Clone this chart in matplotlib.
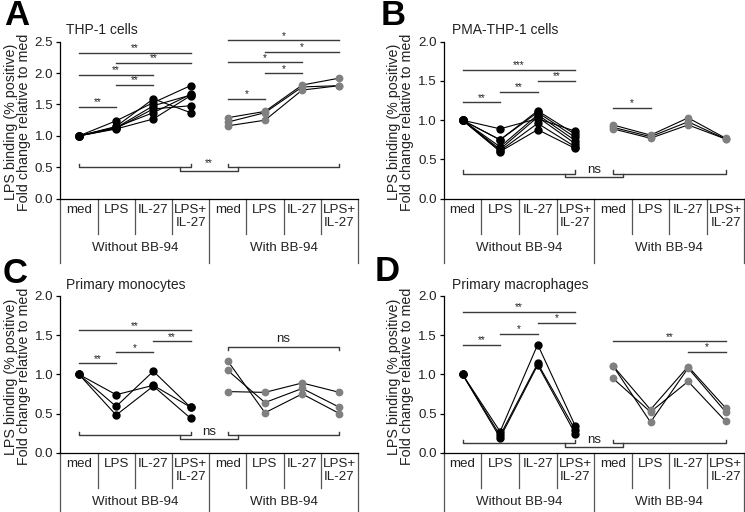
import matplotlib
matplotlib.use("Agg")
import matplotlib.pyplot as plt
from matplotlib.transforms import blended_transform_factory, IdentityTransform

plt.rcParams['font.family'] = ['Liberation Sans', 'DejaVu Sans']

# ---------------- data ----------------
categories = ['med', 'LPS', 'IL-27', 'LPS+\nIL-27']
groups = ['Without BB-94', 'With BB-94']
titles = ['THP-1 cells', 'PMA-THP-1 cells', 'Primary monocytes', 'Primary macrophages']
letters = ['A', 'B', 'C', 'D']

A_without = [[1.0, 1.24, 1.53, 1.80], [1.0, 1.15, 1.59, 1.37], [1.0, 1.13, 1.48, 1.65],
             [1.0, 1.12, 1.43, 1.48], [1.0, 1.11, 1.27, 1.64], [1.0, 1.14, 1.37, 1.66]]
A_with = [[1.29, 1.39, 1.81, 1.92], [1.22, 1.37, 1.78, 1.80], [1.16, 1.25, 1.73, 1.80]]

B_without = [[1.0, 0.89, 1.02, 0.86], [1.0, 0.75, 1.12, 0.82], [1.0, 0.75, 1.10, 0.78],
             [1.0, 0.66, 1.07, 0.74], [1.0, 0.63, 1.04, 0.70], [1.0, 0.61, 0.96, 0.66],
             [1.0, 0.60, 0.88, 0.64]]
B_with = [[0.94, 0.81, 1.03, 0.77], [0.91, 0.79, 0.98, 0.76], [0.89, 0.77, 0.94, 0.76]]

C_without = [[1.0, 0.59, 1.04, 0.58], [1.0, 0.74, 0.86, 0.58], [1.0, 0.48, 0.85, 0.44]]
C_with = [[1.17, 0.51, 0.75, 0.50], [1.05, 0.64, 0.82, 0.58], [0.78, 0.77, 0.89, 0.77]]

D_without = [[1.0, 0.27, 1.38, 0.34], [1.0, 0.22, 1.14, 0.29], [1.0, 0.19, 1.12, 0.24]]
D_with = [[1.11, 0.55, 1.10, 0.57], [1.11, 0.39, 1.08, 0.52], [0.95, 0.52, 0.91, 0.40]]

# significance: (from index, to index, height, label)
A_sig = [(0, 1, 1.46, '**'), (1, 2, 1.81, '**'), (0, 2, 1.97, '**'), (1, 3, 2.16, '**'),
         (0, 3, 2.32, '**'), (4, 5, 1.59, '*'), (5, 6, 2.00, '*'), (4, 6, 2.17, '*'),
         (5, 7, 2.34, '*'), (4, 7, 2.52, '*')]
B_sig = [(0, 1, 1.23, '**'), (1, 2, 1.36, '**'), (2, 3, 1.50, '**'), (0, 3, 1.64, '***'),
         (4, 5, 1.16, '*')]
C_sig = [(0, 1, 1.14, '**'), (1, 2, 1.28, '*'), (2, 3, 1.42, '**'), (0, 3, 1.56, '**')]
D_sig = [(0, 1, 1.38, '**'), (1, 2, 1.52, '*'), (2, 3, 1.66, '*'), (0, 3, 1.80, '**'),
         (6, 7, 1.29, '*'), (4, 7, 1.42, '**')]
ns_brackets = [[], [], [(4, 7, 1.35, 'ns')], []]
group_compare = [(0.50, '**'), (0.32, 'ns'), (0.22, 'ns'), (0.12, 'ns')]
ymaxes = [2.5, 2.0, 2.0, 2.0]

W, H = 745, 512
fig = plt.figure(figsize=(W / 100, H / 100), dpi=100)

# panel geometry in pixels (from top-left)
panels = [
    dict(left=60.3, right=358.0, top=41.7, bottom=198.7),
    dict(left=443.7, right=744.5, top=41.7, bottom=198.7),
    dict(left=60.3, right=358.0, top=296.0, bottom=452.7),
    dict(left=443.7, right=744.5, top=296.0, bottom=452.7),
]
letter_pos = [(4, 25), (381, 25), (3, 283), (375, 281)]
title_pos = [(66.5, 30), (452, 30), (66.5, 285.5), (452, 285.5)]

all_without = [A_without, B_without, C_without, D_without]
all_with = [A_with, B_with, C_with, D_with]
all_sig = [A_sig, B_sig, C_sig, D_sig]

FS = 9.6
sigcol = '#3a3a3a'

for k in range(4):
    p = panels[k]
    ax = fig.add_axes([p['left'] / W, 1 - p['bottom'] / H,
                       (p['right'] - p['left']) / W, (p['bottom'] - p['top']) / H])
    ymax = ymaxes[k]
    ax.set_xlim(-0.5, 7.5)
    ax.set_ylim(0, ymax)
    ppu = (p['bottom'] - p['top']) / ymax  # pixels per data unit
    for s in ['top', 'right']:
        ax.spines[s].set_visible(False)
    ax.spines['left'].set_linewidth(0.9)
    ax.spines['bottom'].set_linewidth(0.9)
    ax.set_xticks([])
    yt = [i * 0.5 for i in range(int(ymax / 0.5) + 1)]
    ax.set_yticks(yt)
    ax.set_yticklabels(['%.1f' % v for v in yt], fontsize=FS, color='#222222')
    ax.tick_params(axis='y', length=3, width=0.9, pad=2)

    xs0 = [0, 1, 2, 3]
    xs1 = [4, 5, 6, 7]
    for row in all_without[k]:
        ax.plot(xs0, row, '-o', color='black', lw=0.8, ms=5, mfc='black', mec='black',
                clip_on=False, zorder=3)
    for row in all_with[k]:
        ax.plot(xs1, row, '-', color='black', lw=0.8, clip_on=False, zorder=3)
        ax.plot(xs1, row, 'o', ms=4.6, mfc='#808080', mec='#808080', clip_on=False, zorder=4)

    # significance bars
    for (i, j, yv, lab) in all_sig[k]:
        ax.plot([i, j], [yv, yv], color=sigcol, lw=1, clip_on=False)
        ax.text((i + j) / 2, yv + 1.5 / ppu, lab, ha='center', va='baseline',
                fontsize=7.3, color='#222222', clip_on=False)
    for (i, j, yv, lab) in ns_brackets[k]:
        t = 3.5 / ppu
        ax.plot([i, i, j, j], [yv - t, yv, yv, yv - t], color=sigcol, lw=1, clip_on=False)
        ax.text((i + j) / 2, yv + 2 / ppu, lab, ha='center', va='bottom',
                fontsize=FS, color='#222222')

    # group comparison bracket
    yb, lab = group_compare[k]
    t = 3.3 / ppu
    ax.plot([0, 0, 3, 3], [yb + t, yb, yb, yb + t], color=sigcol, lw=1, clip_on=False)
    ax.plot([4, 4, 7, 7], [yb + t, yb, yb, yb + t], color=sigcol, lw=1, clip_on=False)
    ax.plot([2.73, 2.73, 4.27, 4.27], [yb, yb - t, yb - t, yb], color=sigcol, lw=1,
            clip_on=False)
    if lab == 'ns':
        ax.text(3.5, yb - t + 1 / ppu, lab, ha='center', va='bottom', fontsize=FS,
                color='#222222')
    else:
        ax.text(3.5, yb + 1 / ppu, lab, ha='center', va='baseline', fontsize=7.3,
                color='#222222')

    # category table under the axis
    tr = blended_transform_factory(ax.transData, IdentityTransform())
    ab = p['bottom']
    inner_bot = ab + 35
    outer_bot = min(ab + 64, H + 2)
    for b in [0.5, 1.5, 2.5, 4.5, 5.5, 6.5]:
        ax.plot([b, b], [H - ab, H - inner_bot], color='#555555', lw=0.9,
                transform=tr, clip_on=False)
    for b in [-0.5, 3.5, 7.5]:
        ax.plot([b, b], [H - ab, H - outer_bot], color='#555555', lw=0.9,
                transform=tr, clip_on=False)
    for g in range(2):
        for c, name in enumerate(categories):
            ax.text(g * 4 + c, H - (ab + 5), name, ha='center', va='top',
                    fontsize=FS, transform=tr, linespacing=1.2, color='#222222')
        ax.text(g * 4 + 1.5, H - (ab + 49.5), groups[g], ha='center', va='center',
                fontsize=FS, transform=tr, color='#222222')

    # y label
    fig.text((p['left'] - 43) / W, 1 - (p['top'] + p['bottom'] + 4) / 2 / H,
             'LPS binding (% positive)\nFold change relative to med',
             rotation=90, ha='center', va='center', fontsize=10.3, linespacing=0.95,
             multialignment='center', color='#222222')
    # title & letter
    fig.text(title_pos[k][0] / W, 1 - title_pos[k][1] / H, titles[k], ha='left',
             va='center', fontsize=10, color='#222222')
    fig.text(letter_pos[k][0] / W, 1 - letter_pos[k][1] / H, letters[k], ha='left',
             va='baseline', fontsize=25, fontweight='bold')

fig.savefig('out.png', dpi=100)
